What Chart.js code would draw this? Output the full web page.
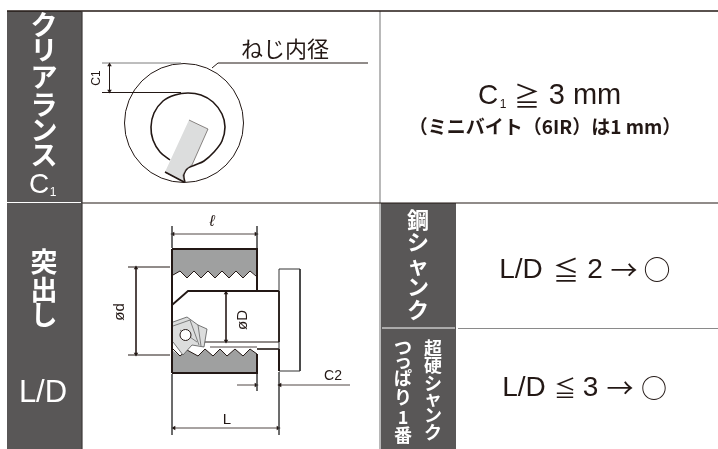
<!DOCTYPE html>
<html><head><meta charset="utf-8">
<style>html,body{margin:0;padding:0;background:#fff}canvas{display:block}</style>
<script src="https://cdn.jsdelivr.net/npm/chart.js@4"></script></head>
<body><canvas id="c" width="718" height="449"></canvas>
<script>
// Table cells and rules
const headLeft=[[7,11],[82,11],[82,449],[7,449]];
const headRight=[[381,203],[456,203],[456,449],[381,449]];
const ruleTop=[[7,11],[718,11]];
const ruleRow=[[82,203],[718,203]];
const ruleLeft=[[82,11],[82,449]];
const ruleMid=[[380,11],[380,449]];
const ruleSub=[[458,328.5],[718,328.5]];
const sepLeft=[[7,202.5],[81,202.5]];
const sepRight=[[382,328],[455,328]];
// Clearance sketch
const threadCircle=[{x:184,y:123,r:59.5}];
const boreArc=[[170,160],[160,152],[153,140],[151,127],[154,113],[163,101],[175,95],[188,93],[201,95],[213,102],[222,114],[225,127],[222,141],[214,152],[204,161],[195,165],[188,168],[184,174],[184,178],[185,182]];
const toolBody=[[189,120],[208,129],[192,165],[186,169],[183,175],[184,182],[165,172]];
const toolEdge=[[165,172],[184,182]];
const c1Top=[[102,63],[181,63]];
const c1Bottom=[[102,92.5],[181,92.5]];
const c1Dim=[[109.5,65],[109.5,91]];
const leader=[[212,68],[218,63],[368,63]];
// Section sketch
const workTop=[[172,249],[257,249],[257,276],[250,271],[243,278],[236,271],[229,278],[222,271],[215,278],[208,271],[201,278],[194,271],[187,278],[180,271],[173,275],[172,275]];
const threadTop=[[173,275],[180,271],[187,278],[194,271],[201,278],[208,271],[215,278],[222,271],[229,278],[236,271],[243,278],[250,271],[256,276]];
const workBottom=[[172,350],[180,356],[187,350],[198,356],[205,349],[213,356],[220,349],[227,356],[235,349],[243,356],[250,349],[257,354],[257,373],[172,373]];
const threadBottom=[[173,349],[180,356],[187,350],[198,356],[205,349],[213,356],[220,349],[227,356],[235,349],[243,356],[250,349],[257,354]];
const wallLeft=[[172,249],[172,373]];
const wallTopEdge=[[172,249],[257,249],[257,291]];
const wallBottomEdge=[[172,373],[257,373],[257,354]];
const barTop=[[172,305],[188,291],[279,291]];
const barLow1=[[203,342],[279,342]];
const barLow2=[[257,349],[279,349]];
const barLow3=[[210,347],[257,347]];
const headBox=[[279,269],[300,269],[300,371],[279,371],[279,269]];
const headThick=[[279,349],[279,371]];
const headThin=[[279,291],[279,342]];
const insert=[[173,322],[187,317],[198,325],[207,329],[204,347],[192,345],[183,355],[173,342]];
const insertFacetA=[[173,326],[190,320],[199,345]];
const insertFacetB=[[180,330],[197,342]];
const insertFacetC=[[198,325],[201,346]];
const insertHole=[{x:185.5,y:335,r:5.5}];
const dimSmallL=[[173,234],[256,234]];
const extA=[[172,226],[172,248]];
const extB=[[257,226],[257,248]];
const dimOd=[[136,268],[136,354]];
const extC=[[128,267],[170,267]];
const extD=[[128,355],[170,355]];
const dimBigD=[[226,293],[226,341]];
const dimL=[[174,428],[278,428]];
const extE=[[172,374],[172,435]];
const extF=[[279,372],[279,435]];
const dimC2a=[[237,385],[256,385]];
const dimC2b=[[280,385],[350,385]];
const extG=[[257,374],[257,391]];
// Text
const SANS='"Liberation Sans"',JP='"Noto Sans CJK JP"';
const columnClear=[['ク',25],['リ',50],['ア',77],['ラ',105],['ン',130],['ス',155]];
const columnProt=[['突',262],['出',290],['し',315]];
const columnSteel=[['鋼',220],['シ',242],['ャ',265],['ン',287],['ク',310]];
const columnCarb=[['超',348],['硬',365],['シ',383],['ャ',398],['ン',415],['ク',432]];
const columnBest=[['つ',347],['っ',361],['ぱ',378],['り',397],['1',417],['番',435]];
const texts=[
 ['ねじ内径',285,49,`400 22px ${JP}`,'#231815'],
 ['C',39,185,`28px ${SANS}`,'#fff'],['1',53,193,`12px ${SANS}`,'#fff'],
 ['L/D',43,393,`31px ${SANS}`,'#fff'],
 ['C',488,96,`28px ${SANS}`,'#231815'],['1',503,105,`12px ${SANS}`,'#231815'],
 ['≧',527,96,`26px ${JP}`,'#231815'],['3 mm',585,96,`29px ${SANS}`,'#231815'],
 ['（ミニバイト（6IR）は1 mm）',545,127,`700 19px ${JP}`,'#231815'],
 ['L/D',521,270,`28px ${SANS}`,'#231815'],['≦',566,270,`26px ${JP}`,'#231815'],['2',595,270,`28px ${SANS}`,'#231815'],
 ['→',624,270,`27px ${JP}`,'#231815'],['○',657,270,`27px ${JP}`,'#231815'],
 ['L/D',524,388,`28px ${SANS}`,'#231815'],['≦',565,388,`22px ${JP}`,'#231815'],['3',590.5,388,`28px ${SANS}`,'#231815'],
 ['→',620,388,`27px ${JP}`,'#231815'],['○',654,388,`26px ${JP}`,'#231815'],
 ['ℓ',212,222,`italic 16px ${SANS}`,'#231815'],
 ['L',227,420,`15px ${SANS}`,'#231815'],
 ['C2',333,376,`14px ${SANS}`,'#231815'],
];
const rotated=[['C1',97,78,`12px ${SANS}`],['ød',120,312,`15px ${SANS}`],['øD',243,320,`15px ${SANS}`]];

const DARK='#231815',HEAD='#595757',GREY='#9fa0a0',TOOL='#dcdddd',LINE='#7d7d7d';
const toPts=a=>a.map(p=>({x:p[0],y:p[1]}));
const poly=(d,fill,stroke,w)=>({type:'scatter',data:toPts(d),showLine:true,fill:'shape',backgroundColor:fill,borderColor:stroke||fill,borderWidth:w||0,pointRadius:0,tension:0});
const line=(d,stroke,w,tension)=>({type:'scatter',data:toPts(d),showLine:true,fill:false,borderColor:stroke||DARK,borderWidth:w||1,pointRadius:0,tension:tension||0});
const dim=(d,rot)=>({type:'scatter',data:toPts(d),showLine:true,fill:false,borderColor:DARK,borderWidth:0.8,pointRadius:2.6,pointStyle:'triangle',pointRotation:rot,pointBackgroundColor:DARK,pointBorderColor:DARK,pointBorderWidth:0});
const circle=(d,fill,w)=>({type:'bubble',data:d,backgroundColor:fill,borderColor:DARK,borderWidth:w,hoverBorderWidth:w});

// listed from back to front
const layers=[
 poly(headLeft,HEAD),poly(headRight,HEAD),
 line(ruleMid,'#8a8a8a',1.2),line(ruleSub,'#8a8a8a',1.2),line(ruleTop,DARK,1.6),line(ruleRow,DARK,1.2),line(ruleLeft,'#3e3a39',1.2),
 line(sepLeft,'#fff',1),line(sepRight,'#fff',1),
 circle(threadCircle,'rgba(0,0,0,0)',1),
 line(boreArc,DARK,1.6,0.35),poly(toolBody,TOOL,DARK,0.5),line(toolEdge,DARK,1.6),
 line(c1Top,LINE,1),line(c1Bottom,DARK,1),dim(c1Dim,[0,180]),line(leader,DARK,1),
 poly(workTop,GREY),poly(workBottom,GREY),
 line(threadTop,DARK,1),line(threadBottom,DARK,1),
 line(wallTopEdge,DARK,2),line(wallBottomEdge,DARK,2),line(wallLeft,DARK,2),
 line(barTop,DARK,1.8),line(barLow1,DARK,1.2),line(barLow2,DARK,1.6),line(barLow3,DARK,0.8),
 line(headBox,'#333',1),line(headThick,DARK,2),line(headThin,DARK,1),
 poly(insert,TOOL,'#555',0.8),line(insertFacetA,'#555',0.7),line(insertFacetB,'#555',0.7),line(insertFacetC,'#555',0.7),
 circle(insertHole,'#fff',1),
 dim(dimSmallL,[-90,90]),line(extA,'#444',0.8),line(extB,'#444',0.8),
 dim(dimOd,[0,180]),line(extC,DARK,1),line(extD,DARK,1),dim(dimBigD,[0,180]),
 dim(dimL,[-90,90]),line(extE,'#444',0.8),line(extF,'#444',0.8),
 {...dim(dimC2a,[0,90]),pointRadius:[0,2.6]},{...dim(dimC2b,[-90,0]),pointRadius:[2.6,0]},line(extG,'#444',0.8),
];
const textPlugin={id:'labels',afterDatasetsDraw(ch){
 const c=ch.ctx,sx=ch.scales.x,sy=ch.scales.y;
 c.save();c.textAlign='center';c.textBaseline='middle';
 const put=(t,x,y,f,col)=>{c.font=f;c.fillStyle=col;c.fillText(t,sx.getPixelForValue(x),sy.getPixelForValue(y));};
 columnClear.forEach(a=>put(a[0],44,a[1],`700 27px ${JP}`,'#fff'));
 columnProt.forEach(a=>put(a[0],44,a[1],`700 27px ${JP}`,'#fff'));
 columnSteel.forEach(a=>put(a[0],418,a[1],`700 22px ${JP}`,'#fff'));
 columnCarb.forEach(a=>put(a[0],433,a[1],`700 18px ${JP}`,'#fff'));
 columnBest.forEach(a=>put(a[0],403,a[1],`700 18px ${JP}`,'#fff'));
 texts.forEach(a=>put(a[0],a[1],a[2],a[3],a[4]));
 rotated.forEach(a=>{c.save();c.translate(sx.getPixelForValue(a[1]),sy.getPixelForValue(a[2]));c.rotate(-Math.PI/2);c.font=a[3];c.fillStyle=DARK;c.fillText(a[0],0,0);c.restore();});
 c.restore();
}};
new Chart(document.getElementById('c'),{
 data:{datasets:layers.map((d,i)=>({...d,order:layers.length-i,clip:false}))},
 options:{responsive:false,animation:false,events:[],layout:{padding:0,autoPadding:false},
  plugins:{legend:{display:false},tooltip:{enabled:false},title:{display:false}},
  scales:{x:{type:'linear',min:0,max:718,display:false},y:{type:'linear',min:0,max:449,reverse:true,display:false}}},
 plugins:[textPlugin]
});
</script></body></html>
